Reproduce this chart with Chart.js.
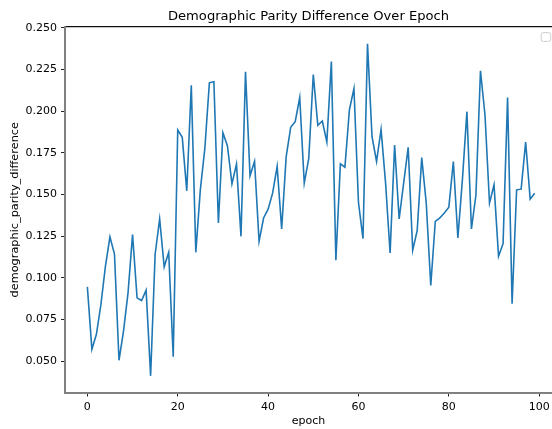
<!DOCTYPE html>
<html lang="en">
<head>
  <meta charset="UTF-8" />
  <title>Demographic Parity Difference Over Epoch</title>
  <script src="https://cdn.jsdelivr.net/npm/chart.js"></script>
  <style>
    body {
      margin: 0;
      background: #fff;
      overflow: hidden;
    }
  </style>
</head>
<body>
  <canvas id="dpdChart" width="552" height="429"></canvas>

  <script>
    // demographic parity difference per training epoch
    const dpd = [
      0.0946, 0.0571, 0.0661, 0.0840, 0.1070, 0.1245, 0.1143, 0.0505, 0.0680, 0.0910,
      0.1259, 0.0880, 0.0864, 0.0926, 0.0412, 0.1143, 0.1353, 0.1066, 0.1153, 0.0527,
      0.1887, 0.1843, 0.1522, 0.2156, 0.1153, 0.1528, 0.1777, 0.2170, 0.2176, 0.1329,
      0.1871, 0.1791, 0.1564, 0.1682, 0.1249, 0.2236, 0.1612, 0.1698, 0.1219, 0.1359,
      0.1412, 0.1508, 0.1668, 0.1293, 0.1727, 0.1903, 0.1937, 0.2082, 0.1568, 0.1717,
      0.2220, 0.1915, 0.1941, 0.1815, 0.2298, 0.1105, 0.1684, 0.1664, 0.2010, 0.2136,
      0.1452, 0.1235, 0.2405, 0.1847, 0.1698, 0.1891, 0.1568, 0.1149, 0.1797, 0.1353,
      0.1568, 0.1783, 0.1165, 0.1285, 0.1721, 0.1448, 0.0954, 0.1339, 0.1359, 0.1389,
      0.1424, 0.1698, 0.1239, 0.1588, 0.1997, 0.1293, 0.1498, 0.2242, 0.1977, 0.1448,
      0.1558, 0.1129, 0.1205, 0.2082, 0.0844, 0.1528, 0.1532, 0.1815, 0.1472, 0.1508
    ];
    const epochs = dpd.map((_, i) => i);

    const xTicks = [0, 20, 40, 60, 80, 100];
    const yTicks = [0.050, 0.075, 0.100, 0.125, 0.150, 0.175, 0.200, 0.225, 0.250];

    const FONT = "'DejaVu Sans', sans-serif";
    const spineGrey = '#808080';
    // the plot runs off the right edge of the canvas, so the x range stops short
    const X_MIN = -4.95, X_MAX = 102.83;

    // no extra side padding for the edge tick labels
    const noSidePadding = (scale) => {
      scale.paddingLeft = 0;
      scale.paddingRight = 0;
    };

    // empty legend frame in the upper right corner
    const emptyLegend = {
      id: 'emptyLegend',
      afterDraw(chart) {
        const { ctx, chartArea } = chart;
        ctx.save();
        ctx.fillStyle = 'rgba(255,255,255,0.8)';
        ctx.strokeStyle = '#cccccc';
        ctx.lineWidth = 1;
        ctx.beginPath();
        ctx.roundRect(chartArea.right - 10.8, chartArea.top + 5.7, 9.5, 8.7, 2);
        ctx.fill();
        ctx.stroke();
        ctx.restore();
      }
    };

    new Chart(document.getElementById('dpdChart'), {
      type: 'line',
      data: {
        datasets: [{
          data: epochs.map((e, i) => ({ x: e, y: dpd[i] })),
          borderColor: '#1f77b4',
          borderWidth: 1.6,
          pointRadius: 0,
          tension: 0,
          fill: false
        }]
      },
      options: {
        responsive: false,
        animation: false,
        devicePixelRatio: 1,
        layout: { padding: 0 },
        plugins: {
          legend: { display: false },
          tooltip: { enabled: false },
          title: { display: false }
        },
        scales: {
          // top axis: only the spine line and the chart title, centred over the plot
          x2: {
            type: 'linear',
            position: 'top',
            min: X_MIN,
            max: X_MAX,
            afterFit: (scale) => { scale.height = 27; noSidePadding(scale); },
            grid: { display: false, drawTicks: false },
            border: { display: true, color: '#111', width: 1.2 },
            ticks: { display: false },
            title: {
              display: true,
              text: 'Demographic Parity Difference Over Epoch',
              color: '#000',
              font: { family: FONT, size: 13.1, lineHeight: 1.2 },
              padding: { top: 8.7, bottom: 0 }
            }
          },
          x: {
            type: 'linear',
            position: 'bottom',
            min: X_MIN,
            max: X_MAX,
            afterBuildTicks: (scale) => { scale.ticks = xTicks.map(v => ({ value: v })); },
            afterFit: (scale) => { scale.height = 36.5; noSidePadding(scale); },
            grid: { display: true, drawOnChartArea: false, drawTicks: true, tickLength: 4, tickColor: '#222' },
            border: { display: true, color: spineGrey, width: 2 },
            ticks: {
              color: '#000',
              padding: 4,
              font: { family: FONT, size: 11 },
              callback: (v) => String(v)
            },
            title: {
              display: true,
              text: 'epoch',
              color: '#000',
              font: { family: FONT, size: 11, lineHeight: 1.2 },
              padding: { top: 0, bottom: 1.4 }
            }
          },
          y: {
            type: 'linear',
            min: 0.0312,
            max: 0.2505,
            afterBuildTicks: (scale) => { scale.ticks = yTicks.map(v => ({ value: v })); },
            afterFit: (scale) => { scale.width = 65; },
            grid: { display: true, drawOnChartArea: false, drawTicks: true, tickLength: 4, tickColor: '#222' },
            border: { display: true, color: spineGrey, width: 2 },
            ticks: {
              color: '#000',
              padding: 4,
              font: { family: FONT, size: 11 },
              callback: (v) => v.toFixed(3)
            },
            title: {
              display: true,
              text: 'demographic_parity_difference',
              color: '#000',
              font: { family: FONT, size: 11.3, lineHeight: 1.2 },
              padding: { top: 8.1, bottom: 0 }
            }
          }
        }
      },
      plugins: [emptyLegend]
    });
  </script>
</body>
</html>
